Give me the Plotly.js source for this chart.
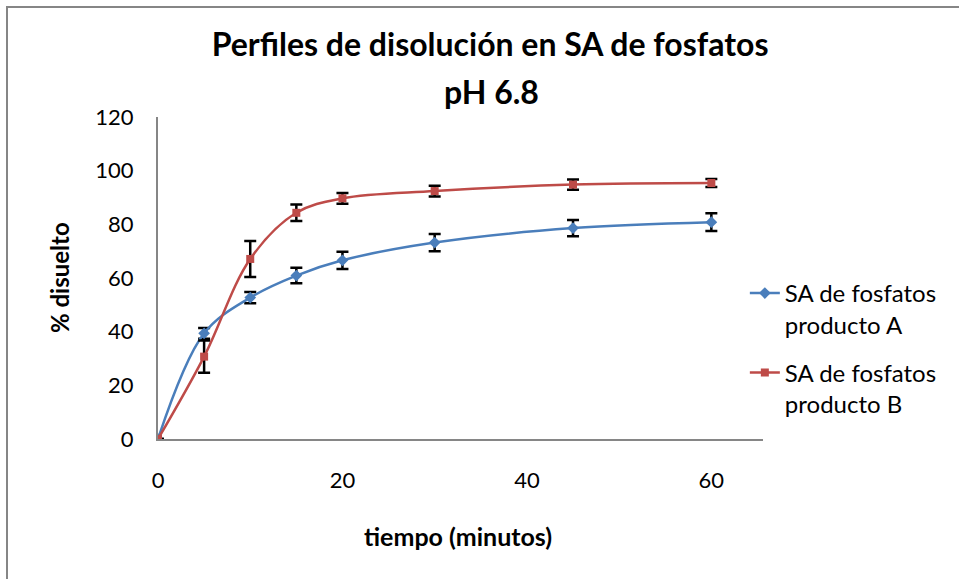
<!DOCTYPE html>
<html>
<head>
<meta charset="utf-8">
<script src="https://cdn.plot.ly/plotly-3.0.1.min.js"></script>
<style>
  html, body { margin: 0; padding: 0; background: #fff; overflow: hidden; }
  #frame { position: absolute; left: 6px; top: 6px; width: 1000px; height: 1000px;
           border-left: 2px solid #868686; border-top: 2px solid #868686; }
  #chart { position: absolute; left: 0; top: 0; width: 959px; height: 579px; }
</style>
</head>
<body>
<div id="frame"></div>
<div id="chart"></div>
<script>
const tiempo = [0, 5, 10, 15, 20, 30, 45, 60];
const productoA = [0, 39.4, 52.7, 60.9, 66.6, 73.2, 78.6, 80.8];
const errorA = [0, 2.0, 2.1, 2.9, 3.2, 3.2, 3.0, 3.3];
const productoB = [0, 30.7, 67.1, 84.3, 89.7, 92.4, 94.8, 95.4];
const errorB = [0, 6.0, 6.7, 3.1, 2.0, 2.0, 1.9, 1.5];
const nombreA = 'SA de fosfatos<br>producto A';
const nombreB = 'SA de fosfatos<br>producto B';
const xTicks = [0, 20, 40, 60];
const yTicks = [0, 20, 40, 60, 80, 100, 120];

const FONT = 'Lato, "Open Sans", sans-serif';

const errStyle = (arr) => ({ type: 'data', array: arr, visible: true, color: '#000000', thickness: 2.5, width: 6 });

const traces = [
  { x: tiempo, y: productoA, name: nombreA, legendgroup: 'a', type: 'scatter', mode: 'lines+markers',
    line: { color: '#4a7ebb', width: 2.5, shape: 'spline', smoothing: 1 },
    marker: { symbol: 'diamond', size: 9, color: '#4a7ebb' },
    error_y: errStyle(errorA) },
  { x: tiempo, y: productoB, name: nombreB, legendgroup: 'b', type: 'scatter', mode: 'lines+markers',
    line: { color: '#be4b48', width: 2.5, shape: 'spline', smoothing: 1 },
    marker: { symbol: 'square', size: 8, color: '#be4b48' },
    error_y: errStyle(errorB) }
];

const layout = {
  width: 959, height: 579,
  paper_bgcolor: 'rgba(0,0,0,0)', plot_bgcolor: 'rgba(0,0,0,0)',
  margin: { l: 158, r: 196, t: 117, b: 140 },
  font: { family: FONT, color: '#000000', size: 22 },
  title: { text: '<b>Perfiles de disolución en SA de fosfatos</b>', font: { family: FONT, size: 32, color: '#000' },
           x: 0.511, xanchor: 'center', y: 1 - 45 / 579, yanchor: 'middle', yref: 'container' },
  xaxis: { range: [0, 65.6], tickvals: xTicks, ticktext: xTicks.map(String), showgrid: false, zeroline: false,
           showline: true, linecolor: '#868686', linewidth: 2, ticks: '', ticklabelstandoff: 21,
           tickfont: { family: FONT, size: 22 } },
  yaxis: { range: [0, 120], tickvals: yTicks, ticktext: yTicks.map(String), showgrid: false, zeroline: false,
           showline: true, linecolor: '#868686', linewidth: 2, ticks: '', ticklabelstandoff: 18,
           tickfont: { family: FONT, size: 22 } },
  showlegend: true,
  legend: { x: 0.97, y: (439 - 271) / 322, xanchor: 'left', yanchor: 'top', bgcolor: 'rgba(0,0,0,0)',
            font: { family: FONT, size: 24 }, valign: 'top', tracegroupgap: 14 },
  annotations: [
    { text: '<b>pH 6.8</b>', xref: 'paper', yref: 'paper', x: (491 - 158) / 605, y: (439 - 92) / 322,
      xanchor: 'center', yanchor: 'middle', showarrow: false, font: { family: FONT, size: 32 } },
    { text: '<b>tiempo (minutos)</b>', xref: 'paper', yref: 'paper', x: (458 - 158) / 605, y: (439 - 536) / 322,
      xanchor: 'center', yanchor: 'middle', showarrow: false, font: { family: FONT, size: 25 } },
    { text: '<b>% disuelto</b>', xref: 'paper', yref: 'paper', x: (59 - 158) / 605, y: 0.5, textangle: -90,
      xanchor: 'center', yanchor: 'middle', showarrow: false, font: { family: FONT, size: 24 } }
  ]
};

Plotly.newPlot('chart', traces, layout, { displayModeBar: false, staticPlot: true });
</script>
</body>
</html>
